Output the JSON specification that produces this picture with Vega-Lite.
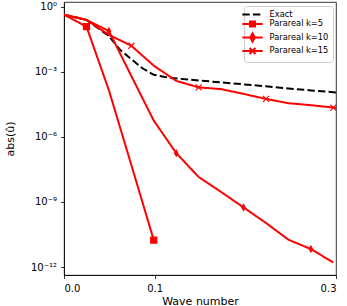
{
  "$schema": "https://vega.github.io/schema/vega-lite/v6.json",
  "width": 272,
  "height": 273,
  "autosize": {"type": "none"},
  "padding": {"left": 64, "top": 2, "right": 11, "bottom": 31},
  "config": {
    "font": "DejaVu Sans",
    "view": {"stroke": "#000000", "strokeWidth": 0.8},
    "axis": {
      "grid": false,
      "domainColor": "#000000",
      "domainWidth": 0.8,
      "tickColor": "#000000",
      "tickWidth": 0.8,
      "tickSize": 3.5,
      "labelFontSize": 10,
      "labelColor": "#000000",
      "titleFontSize": 11,
      "titleFontWeight": "normal",
      "titleColor": "#000000"
    }
  },
  "data": {
    "values": [
      {"s": "Exact", "i": 0, "x": 0, "v": 0.4266},
      {"s": "Exact", "i": 1, "x": 0.0248, "v": 0.2455},
      {"s": "Exact", "i": 2, "x": 0.0495, "v": 0.04467},
      {"s": "Exact", "i": 2.5, "x": 0.0619, "v": 0.01023},
      {"s": "Exact", "i": 3, "x": 0.0743, "v": 0.003802},
      {"s": "Exact", "i": 3.5, "x": 0.0866, "v": 0.001445},
      {"s": "Exact", "i": 4, "x": 0.099, "v": 0.0007244},
      {"s": "Exact", "i": 4.5, "x": 0.1114, "v": 0.0005754},
      {"s": "Exact", "i": 5, "x": 0.1238, "v": 0.0004898},
      {"s": "Exact", "i": 6, "x": 0.1485, "v": 0.0003981},
      {"s": "Exact", "i": 7, "x": 0.1733, "v": 0.0003236},
      {"s": "Exact", "i": 8, "x": 0.198, "v": 0.000263},
      {"s": "Exact", "i": 9, "x": 0.2228, "v": 0.0002138},
      {"s": "Exact", "i": 10, "x": 0.2475, "v": 0.0001698},
      {"s": "Exact", "i": 11, "x": 0.2723, "v": 0.000138},
      {"s": "Exact", "i": 12, "x": 0.297, "v": 0.0001148},
      {"s": "Exact", "i": 13, "x": 0.3218, "v": 0.0000933},
      {"s": "Parareal k=5", "i": 0, "x": 0, "v": 0.4266},
      {"s": "Parareal k=5", "i": 1, "x": 0.0248, "v": 0.1202},
      {"s": "Parareal k=5", "i": 2, "x": 0.0495, "v": 0.0001413},
      {"s": "Parareal k=5", "i": 3, "x": 0.0743, "v": 5.01e-8},
      {"s": "Parareal k=5", "i": 4, "x": 0.099, "v": 1.738e-11},
      {"s": "Parareal k=10", "i": 0, "x": 0, "v": 0.4266},
      {"s": "Parareal k=10", "i": 1, "x": 0.0248, "v": 0.2455},
      {"s": "Parareal k=10", "i": 2, "x": 0.0495, "v": 0.07586},
      {"s": "Parareal k=10", "i": 3, "x": 0.0743, "v": 0.000631},
      {"s": "Parareal k=10", "i": 4, "x": 0.099, "v": 5.62e-6},
      {"s": "Parareal k=10", "i": 5, "x": 0.1238, "v": 1.778e-7},
      {"s": "Parareal k=10", "i": 6, "x": 0.1485, "v": 1.413e-8},
      {"s": "Parareal k=10", "i": 7, "x": 0.1733, "v": 2.884e-9},
      {"s": "Parareal k=10", "i": 8, "x": 0.198, "v": 5.62e-10},
      {"s": "Parareal k=10", "i": 9, "x": 0.2228, "v": 1.072e-10},
      {"s": "Parareal k=10", "i": 10, "x": 0.2475, "v": 1.82e-11},
      {"s": "Parareal k=10", "i": 11, "x": 0.2723, "v": 6.76e-12},
      {"s": "Parareal k=10", "i": 12, "x": 0.297, "v": 1.622e-12},
      {"s": "Parareal k=15", "i": 0, "x": 0, "v": 0.4266},
      {"s": "Parareal k=15", "i": 1, "x": 0.0248, "v": 0.2455},
      {"s": "Parareal k=15", "i": 2, "x": 0.0495, "v": 0.05012},
      {"s": "Parareal k=15", "i": 3, "x": 0.0743, "v": 0.01585},
      {"s": "Parareal k=15", "i": 4, "x": 0.099, "v": 0.001905},
      {"s": "Parareal k=15", "i": 5, "x": 0.1238, "v": 0.0003802},
      {"s": "Parareal k=15", "i": 6, "x": 0.1485, "v": 0.0001905},
      {"s": "Parareal k=15", "i": 7, "x": 0.1733, "v": 0.0001585},
      {"s": "Parareal k=15", "i": 8, "x": 0.198, "v": 0.0000955},
      {"s": "Parareal k=15", "i": 9, "x": 0.2228, "v": 0.0000562},
      {"s": "Parareal k=15", "i": 10, "x": 0.2475, "v": 0.00003548},
      {"s": "Parareal k=15", "i": 11, "x": 0.2723, "v": 0.00002884},
      {"s": "Parareal k=15", "i": 12, "x": 0.297, "v": 0.00002239},
      {"s": "Parareal k=15", "i": 13, "x": 0.3218, "v": 0.00001585}
    ]
  },
  "encoding": {
    "x": {
      "field": "x",
      "type": "quantitative",
      "scale": {"domain": [0, 0.3], "nice": false, "zero": false},
      "axis": {
        "values": [0, 0.1, 0.3],
        "format": ".1f",
        "title": "Wave number",
        "labelPadding": 5,
        "titleBaseline": "alphabetic",
        "titleY": 29
      }
    },
    "y": {
      "field": "v",
      "type": "quantitative",
      "scale": {"type": "log", "domain": [4.3e-13, 1.64], "nice": false},
      "axis": {
        "values": [1, 0.001, 0.000001, 1e-9, 1e-12],
        "labelExpr": "datum.value > 0.5 ? '10⁰' : datum.value > 5e-4 ? '10⁻³' : datum.value > 5e-7 ? '10⁻⁶' : datum.value > 5e-10 ? '10⁻⁹' : '10⁻¹²'",
        "labelPadding": 4,
        "title": "abs(û)",
        "titleBaseline": "alphabetic",
        "titleAlign": "center",
        "titleAngle": -90,
        "titleX": -51,
        "titleY": 136.5
      }
    }
  },
  "layer": [
    {
      "mark": {"type": "line", "strokeWidth": 2, "clip": true},
      "encoding": {
        "color": {
          "field": "s",
          "type": "nominal",
          "scale": {
            "domain": ["Exact", "Parareal k=5", "Parareal k=10", "Parareal k=15"],
            "range": ["#000000", "#ff0000", "#ff0000", "#ff0000"]
          },
          "legend": {
            "title": null,
            "orient": "none",
            "legendX": 180,
            "legendY": 4,
            "padding": 4,
            "fillColor": "rgba(255,255,255,0.8)",
            "strokeColor": "#cccccc",
            "cornerRadius": 3,
            "labelFontSize": 8.3,
            "labelColor": "#000000",
            "labelOffset": 12.5,
            "symbolSize": 49,
            "symbolStrokeWidth": 2,
            "rowPadding": -2.5,
            "encode": {
              "symbols": {
                "update": {
                  "shape": {"signal": "datum.value === 'Exact' ? 'M-2.9,0H2.9' : datum.value === 'Parareal k=5' ? 'M-2.9,0H2.9M-0.72,-0.72H0.72V0.72H-0.72Z' : datum.value === 'Parareal k=10' ? 'M-2.9,0H2.9M0,-1.2L0.65,0L0,1.2L-0.65,0Z' : 'M-2.9,0H2.9M-0.85,-0.85L0.85,0.85M-0.85,0.85L0.85,-0.85'"},
                  "fill": {"signal": "datum.value === 'Exact' ? 'transparent' : '#ff0000'"},
                  "strokeDash": {"signal": "datum.value === 'Exact' ? [7.4, 3.2] : [1, 0]"}
                }
              }
            }
          }
        },
        "strokeDash": {
          "field": "s",
          "type": "nominal",
          "scale": {
            "domain": ["Exact", "Parareal k=5", "Parareal k=10", "Parareal k=15"],
            "range": [[7.4, 3.2], [1, 0], [1, 0], [1, 0]]
          },
          "legend": null
        }
      }
    },
    {
      "transform": [
        {"filter": "(datum.s === 'Parareal k=5' && datum.i % 3 === 1) || (datum.s === 'Parareal k=10' && datum.i % 3 === 2) || (datum.s === 'Parareal k=15' && datum.i % 3 === 0 && datum.i > 0)"}
      ],
      "mark": {"type": "point", "filled": true, "fill": "#ff0000", "stroke": "#ff0000", "strokeWidth": 1.2, "opacity": 1, "clip": true},
      "encoding": {
        "shape": {
          "field": "s",
          "type": "nominal",
          "scale": {
            "domain": ["Parareal k=5", "Parareal k=10", "Parareal k=15"],
            "range": ["square", "M0,-1L0.55,0L0,1L-0.55,0Z", "M-1,-1L1,1M-1,1L1,-1"]
          },
          "legend": null
        },
        "size": {"value": 36}
      }
    }
  ]
}
